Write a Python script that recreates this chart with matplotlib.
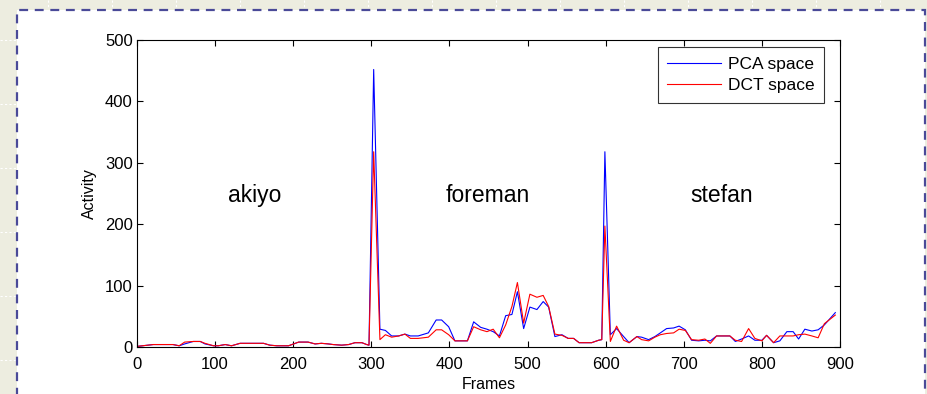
import matplotlib
matplotlib.use("Agg")
import matplotlib.pyplot as plt
from matplotlib.patches import Rectangle

plt.rcParams['font.family'] = ['Liberation Sans', 'DejaVu Sans']

frames = [0, 7, 21, 46, 54, 61, 72, 81, 87, 98, 104, 113, 121, 132, 151, 162, 170, 179,
          194, 207, 219, 228, 236, 245, 251, 262, 271, 279, 288, 294, 297, 303, 311, 318,
          326, 335, 343, 350, 360, 373, 383, 390, 399, 407, 423, 431, 440, 448, 456, 464,
          472, 480, 487, 495, 503, 512, 520, 527, 535, 544, 552, 559, 566, 582, 591, 595,
          599, 606, 614, 623, 630, 640, 646, 655, 663, 670, 678, 687, 694, 702, 710, 719,
          727, 734, 742, 759, 766, 774, 783, 791, 800, 806, 815, 823, 832, 840, 847, 855,
          864, 872, 880, 894]
pca = [1, 2, 4, 4, 2, 5, 9, 9, 5, 2, 2, 4, 2, 6, 6, 6, 3, 2,
       2, 8, 8, 5, 6, 5, 4, 3, 4, 7, 7, 4, 3, 452, 29, 27,
       18, 18, 21, 18, 18, 23, 44, 44, 33, 10, 10, 41, 32, 29, 25, 18,
       51, 53, 90, 30, 65, 61, 74, 65, 17, 20, 14, 14, 7, 7, 11, 12,
       318, 20, 30, 17, 7, 17, 16, 12, 17, 23, 30, 31, 34, 28, 11, 10,
       11, 10, 18, 18, 9, 13, 18, 11, 11, 19, 7, 10, 25, 25, 13, 29,
       26, 28, 36, 56]
dct = [1, 2, 4, 4, 2, 8, 9, 9, 6, 2, 2, 4, 2, 6, 6, 6, 3, 2,
       2, 8, 8, 5, 6, 5, 4, 3, 4, 7, 7, 4, 3, 318, 12, 20,
       16, 18, 21, 14, 14, 16, 28, 28, 20, 10, 10, 33, 28, 25, 29, 15,
       36, 66, 105, 39, 86, 81, 84, 66, 21, 19, 14, 14, 7, 7, 11, 12,
       197, 9, 34, 11, 7, 17, 12, 10, 16, 20, 22, 23, 29, 27, 12, 11,
       13, 6, 18, 18, 11, 9, 30, 14, 10, 19, 7, 18, 18, 18, 20, 21,
       18, 15, 38, 52]

labels = ["akiyo", "foreman", "stefan"]
label_x = [151, 449, 749]
label_y = 247

W, H = 927, 394
fig = plt.figure(figsize=(W / 100, H / 100), dpi=100)
fig.patch.set_facecolor('#EDEDE0')

# faint background grid of the slide
for xv in [48, 112, 176, 240, 304, 368, 432, 496, 560, 624, 688, 752, 816, 880]:
    fig.add_artist(plt.Line2D([xv / W, xv / W], [1 - 0 / H, 1 - 9 / H], color='white',
                              lw=0.8, ls=(0, (2, 2)), transform=fig.transFigure, zorder=0))
for yv in [40, 104, 168, 232, 296, 360]:
    fig.add_artist(plt.Line2D([0, 16 / W], [1 - yv / H, 1 - yv / H], color='white',
                              lw=0.8, ls=(0, (2, 2)), transform=fig.transFigure, zorder=0))

# white panel with dashed border
panel = Rectangle((17 / W, -0.05), (925 - 17) / W, 1.05 - 10 / H, transform=fig.transFigure,
                  facecolor='white', edgecolor='#4A4A98', lw=1.6, ls=(0, (4, 3)), zorder=0)
fig.add_artist(panel)

ax = fig.add_axes([137 / W, 1 - 347 / H, (840 - 137) / W, (347 - 40) / H])
ax.plot(frames, pca, color='#0000FF', lw=0.8, label='PCA space')
ax.plot(frames, dct, color='#FF0000', lw=0.8, label='DCT space')

ax.set_xlim(0, 900)
ax.set_ylim(0, 500)
ax.set_xticks(range(0, 901, 100))
ax.set_yticks(range(0, 501, 100))
ax.tick_params(direction='in', top=True, right=True, labelsize=12, length=4, width=0.8,
               pad=3)
ax.tick_params(axis='x', pad=7)
for s in ax.spines.values():
    s.set_linewidth(0.8)
ax.set_xlabel('Frames', fontsize=11.5, labelpad=4)
ax.set_ylabel('Activity', fontsize=11.5, labelpad=6)

for t, xv in zip(labels, label_x):
    ax.text(xv, label_y, t, fontsize=16.5, ha='center', va='center')

leg = ax.legend(loc='upper right', bbox_to_anchor=((824 - 137) / 703, (347 - 47) / 307),
                fontsize=12.5, frameon=True, fancybox=False,
                edgecolor='black', handlelength=3.1, borderpad=0.55, labelspacing=0.38,
                borderaxespad=0, handletextpad=0.4)
leg.get_frame().set_linewidth(0.8)

fig.savefig('out.png', dpi=100, facecolor=fig.get_facecolor())
